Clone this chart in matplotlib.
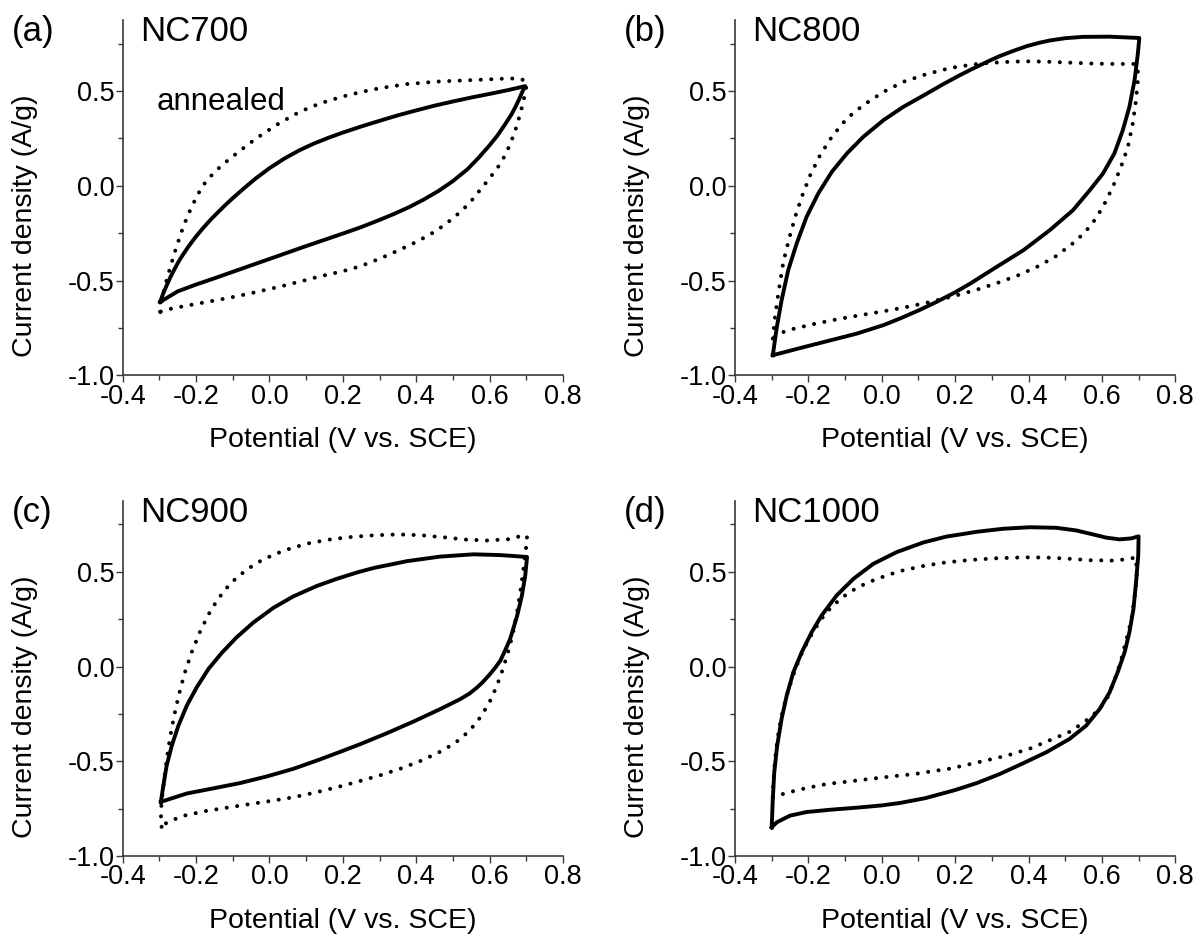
"""Cyclic voltammograms of the NC700-NC1000 carbons, as-made vs annealed.

Four panels, one per carbonisation temperature. The solid loop is the
as-made electrode, the dotted loop the annealed one.
"""

import matplotlib

matplotlib.use("Agg")
import matplotlib.pyplot as plt  # noqa: E402
from matplotlib.ticker import MultipleLocator  # noqa: E402

plt.rcParams["font.family"] = ["Liberation Sans", "DejaVu Sans"]

PANEL_TAGS = ["(a)", "(b)", "(c)", "(d)"]
SAMPLES = ["NC700", "NC800", "NC900", "NC1000"]

# Each loop: anodic sweep -0.3 -> 0.7 V, then cathodic sweep back to -0.3 V.
NC700_SOLID_V = [-0.298, -0.29, -0.28, -0.27, -0.26, -0.25, -0.24, -0.22, -0.20, -0.18,
                 -0.16, -0.14, -0.12, -0.10, -0.07, -0.04, 0.0, 0.04, 0.08, 0.12, 0.16,
                 0.20, 0.25, 0.30, 0.35, 0.40, 0.45, 0.50, 0.55, 0.60, 0.65, 0.697,
                 0.69, 0.68, 0.67, 0.66, 0.64, 0.62, 0.60, 0.57, 0.54, 0.50, 0.46, 0.42,
                 0.38, 0.34, 0.30, 0.25, 0.20, 0.15, 0.10, 0.05, 0.0, -0.05, -0.10,
                 -0.15, -0.20, -0.25, -0.298]
NC700_SOLID_J = [-0.613, -0.57, -0.525, -0.482, -0.444, -0.408, -0.376, -0.318, -0.267,
                 -0.221, -0.178, -0.139, -0.101, -0.065, -0.014, 0.035, 0.093, 0.143,
                 0.186, 0.222, 0.253, 0.281, 0.313, 0.343, 0.372, 0.398, 0.423, 0.445,
                 0.466, 0.485, 0.505, 0.526,
                 0.50, 0.455, 0.415, 0.378, 0.318, 0.262, 0.214, 0.148, 0.088, 0.025,
                 -0.028, -0.073, -0.113, -0.148, -0.18, -0.218, -0.252, -0.285, -0.318,
                 -0.352, -0.386, -0.42, -0.454, -0.488, -0.521, -0.557, -0.613]
NC700_DOT_V = [-0.298, -0.293, -0.286, -0.278, -0.271, -0.262, -0.253, -0.244, -0.235,
               -0.224, -0.212, -0.199, -0.185, -0.17, -0.153, -0.135, -0.116, -0.089,
               -0.05, -0.021, 0.029, 0.084, 0.138, 0.197, 0.25, 0.30, 0.375, 0.465,
               0.556, 0.656, 0.688, 0.702,
               0.697, 0.69, 0.682, 0.672, 0.66, 0.645, 0.625, 0.60, 0.575, 0.552, 0.53,
               0.506, 0.48, 0.461, 0.435, 0.406, 0.38, 0.352, 0.325, 0.297, 0.27, 0.243,
               0.211, 0.188, 0.16, 0.129, 0.10, 0.065, 0.035, 0.006, -0.053, -0.112,
               -0.171, -0.235, -0.271, -0.298]
NC700_DOT_J = [-0.665, -0.60, -0.54, -0.48, -0.435, -0.375, -0.32, -0.267, -0.217,
               -0.163, -0.111, -0.06, -0.01, 0.03, 0.065, 0.099, 0.13, 0.172, 0.23, 0.27,
               0.333, 0.392, 0.435, 0.47, 0.495, 0.515, 0.537, 0.551, 0.558, 0.567,
               0.562, 0.544,
               0.49, 0.43, 0.37, 0.305, 0.24, 0.17, 0.105, 0.04, -0.02, -0.075, -0.12,
               -0.162, -0.202, -0.228, -0.26, -0.29, -0.315, -0.34, -0.364, -0.387,
               -0.408, -0.427, -0.445, -0.456, -0.468, -0.482, -0.497, -0.514, -0.529,
               -0.542, -0.568, -0.592, -0.613, -0.636, -0.65, -0.665]

NC800_SOLID_V = [-0.297, -0.286, -0.273, -0.255, -0.232, -0.205, -0.173, -0.136, -0.095,
                 -0.05, 0.005, 0.059, 0.114, 0.168, 0.214, 0.25, 0.29, 0.322, 0.36,
                 0.395, 0.43, 0.458, 0.50, 0.548, 0.621, 0.702,
                 0.698, 0.689, 0.675, 0.657, 0.634, 0.603, 0.567, 0.521, 0.458, 0.386,
                 0.313, 0.241, 0.20, 0.15, 0.10, 0.05, 0.005, -0.068, -0.141, -0.214,
                 -0.297]
NC800_SOLID_J = [-0.894, -0.745, -0.604, -0.445, -0.305, -0.164, -0.04, 0.074, 0.171,
                 0.259, 0.347, 0.417, 0.477, 0.537, 0.585, 0.62, 0.657, 0.685, 0.713,
                 0.737, 0.755, 0.767, 0.779, 0.786, 0.787, 0.78,
                 0.699, 0.558, 0.417, 0.294, 0.171, 0.065, -0.023, -0.129, -0.234, -0.34,
                 -0.428, -0.516, -0.562, -0.612, -0.658, -0.70, -0.735, -0.78, -0.816,
                 -0.852, -0.894]
NC800_DOT_V = [-0.297, -0.291, -0.282, -0.268, -0.252, -0.236, -0.218, -0.195, -0.168,
               -0.136, -0.095, -0.05, 0.005, 0.059, 0.123, 0.177, 0.205, 0.268, 0.331,
               0.39, 0.449, 0.512, 0.576, 0.639, 0.689, 0.698,
               0.698, 0.693, 0.684, 0.671, 0.652, 0.63, 0.603, 0.571, 0.53, 0.476, 0.426,
               0.372, 0.322, 0.268, 0.214, 0.186, 0.123, 0.059, 0.005, -0.059, -0.123,
               -0.182, -0.241, -0.277, -0.297]
NC800_DOT_J = [-0.806, -0.692, -0.569, -0.40, -0.275, -0.164, -0.058, 0.056, 0.162,
               0.259, 0.356, 0.426, 0.496, 0.549, 0.59, 0.617, 0.628, 0.645, 0.653,
               0.657, 0.655, 0.65, 0.645, 0.643, 0.643, 0.629,
               0.558, 0.452, 0.329, 0.206, 0.10, -0.005, -0.111, -0.208, -0.29, -0.37,
               -0.425, -0.472, -0.508, -0.543, -0.573, -0.587, -0.617, -0.643, -0.662,
               -0.683, -0.705, -0.728, -0.755, -0.777, -0.806]

NC900_SOLID_V = [-0.296, -0.289, -0.28, -0.266, -0.248, -0.225, -0.198, -0.166, -0.13,
                 -0.089, -0.044, 0.011, 0.065, 0.129, 0.184, 0.24, 0.284, 0.375, 0.465,
                 0.556, 0.629, 0.702,
                 0.697, 0.688, 0.675, 0.665, 0.656, 0.643, 0.629, 0.615, 0.602, 0.58,
                 0.565, 0.545, 0.52, 0.465, 0.393, 0.32, 0.247, 0.20, 0.138, 0.065,
                 -0.007, -0.08, -0.153, -0.225, -0.296]
NC900_SOLID_J = [-0.714, -0.626, -0.521, -0.416, -0.311, -0.205, -0.109, -0.012, 0.072,
                 0.155, 0.232, 0.31, 0.37, 0.425, 0.463, 0.497, 0.52, 0.556, 0.58,
                 0.592, 0.588, 0.578,
                 0.479, 0.374, 0.268, 0.203, 0.146, 0.088, 0.03, -0.007, -0.038, -0.085,
                 -0.112, -0.143, -0.172, -0.225, -0.29, -0.352, -0.41, -0.445, -0.49,
                 -0.54, -0.58, -0.615, -0.643, -0.67, -0.714]
NC900_DOT_V = [-0.294, -0.296, -0.294, -0.287, -0.28, -0.271, -0.26, -0.247, -0.232,
               -0.212, -0.189, -0.166, -0.144, -0.12, -0.09, -0.057, -0.02, 0.02, 0.06,
               0.111, 0.17, 0.23, 0.29, 0.352, 0.411, 0.475, 0.534, 0.593, 0.652, 0.688,
               0.702,
               0.70, 0.695, 0.69, 0.684, 0.675, 0.663, 0.648, 0.629, 0.606, 0.578, 0.545,
               0.505, 0.46, 0.41, 0.36, 0.30, 0.24, 0.188, 0.125, 0.065, 0.002, -0.057,
               -0.116, -0.175, -0.235, -0.266, -0.285, -0.294]
NC900_DOT_J = [-0.846, -0.775, -0.714, -0.60, -0.49, -0.375, -0.262, -0.15, -0.04, 0.075,
               0.185, 0.275, 0.345, 0.408, 0.468, 0.518, 0.562, 0.597, 0.625, 0.652,
               0.672, 0.685, 0.693, 0.697, 0.693, 0.682, 0.67, 0.665, 0.672, 0.69,
               0.689,
               0.637, 0.56, 0.48, 0.40, 0.29, 0.17, 0.06, -0.055, -0.165, -0.26, -0.34,
               -0.405, -0.455, -0.50, -0.537, -0.575, -0.608, -0.635, -0.665, -0.69,
               -0.71, -0.727, -0.745, -0.763, -0.788, -0.812, -0.83, -0.846]

NC1000_SOLID_V = [-0.30, -0.297, -0.293, -0.285, -0.273, -0.259, -0.241, -0.218, -0.191,
                  -0.164, -0.123, -0.077, -0.023, 0.041, 0.114, 0.177, 0.214, 0.259,
                  0.331, 0.404, 0.476, 0.53, 0.576, 0.612, 0.648, 0.68, 0.70,
                  0.699, 0.693, 0.686, 0.675, 0.662, 0.643, 0.621, 0.594, 0.557, 0.512,
                  0.449, 0.386, 0.322, 0.259, 0.20, 0.118, 0.05, 0.0, -0.068, -0.141,
                  -0.205, -0.25, -0.286, -0.30]
NC1000_SOLID_J = [-0.849, -0.699, -0.558, -0.417, -0.276, -0.153, -0.03, 0.076, 0.181,
                  0.269, 0.375, 0.463, 0.542, 0.604, 0.655, 0.686, 0.697, 0.711, 0.727,
                  0.735, 0.732, 0.718, 0.697, 0.68, 0.671, 0.676, 0.687,
                  0.586, 0.445, 0.304, 0.181, 0.076, -0.03, -0.136, -0.224, -0.312, -0.382,
                  -0.452, -0.51, -0.567, -0.615, -0.652, -0.695, -0.72, -0.733, -0.745,
                  -0.756, -0.768, -0.787, -0.822, -0.849]
NC1000_DOT_V = [-0.297, -0.296, -0.293, -0.289, -0.284, -0.278, -0.27, -0.26, -0.248,
                -0.234, -0.218, -0.20, -0.18, -0.16, -0.138, -0.115, -0.09, -0.06, -0.025,
                0.015, 0.055, 0.114, 0.173, 0.24, 0.31, 0.386, 0.449, 0.508, 0.567, 0.63,
                0.662, 0.693,
                0.695, 0.689, 0.68, 0.666, 0.652, 0.634, 0.612, 0.58, 0.553, 0.512, 0.458,
                0.404, 0.345, 0.286, 0.227, 0.186, 0.15, 0.091, 0.032, -0.032, -0.091,
                -0.15, -0.209, -0.245, -0.268, -0.285, -0.297]
NC1000_DOT_J = [-0.69, -0.63, -0.54, -0.46, -0.38, -0.31, -0.235, -0.16, -0.085, -0.005,
                0.07, 0.14, 0.205, 0.262, 0.312, 0.352, 0.39, 0.423, 0.453, 0.482, 0.506,
                0.531, 0.549, 0.562, 0.571, 0.576, 0.575, 0.569, 0.561, 0.559, 0.565,
                0.575,
                0.47, 0.366, 0.243, 0.137, 0.032, -0.074, -0.179, -0.248, -0.292, -0.345,
                -0.389, -0.433, -0.468, -0.495, -0.521, -0.539, -0.549, -0.567, -0.579,
                -0.593, -0.607, -0.62, -0.643, -0.66, -0.672, -0.683, -0.69]

SOLID_V = [NC700_SOLID_V, NC800_SOLID_V, NC900_SOLID_V, NC1000_SOLID_V]
SOLID_J = [NC700_SOLID_J, NC800_SOLID_J, NC900_SOLID_J, NC1000_SOLID_J]
DOT_V = [NC700_DOT_V, NC800_DOT_V, NC900_DOT_V, NC1000_DOT_V]
DOT_J = [NC700_DOT_J, NC800_DOT_J, NC900_DOT_J, NC1000_DOT_J]

W, H = 1199, 935
AX_W, AX_H = 440.3, 355.3
# left edge / bottom edge of each axes box, in pixels from the top-left corner
AX_ORIGINS = [(122.7, 375.3), (735.0, 375.3), (122.7, 856.0), (735.0, 856.0)]

SPINE = "#3a3a3a"


def tick_fmt(v, _pos):
    return f"{v:.1f}".replace("-0.0", "0.0")


fig = plt.figure(figsize=(W / 100, H / 100), dpi=100)

for i, (x0, y0) in enumerate(AX_ORIGINS):
    ax = fig.add_axes([x0 / W, 1 - y0 / H, AX_W / W, AX_H / H])

    ax.plot(SOLID_V[i], SOLID_J[i], color="black", linewidth=2.8,
            solid_joinstyle="round")
    ax.plot(DOT_V[i], DOT_J[i], color="black", linewidth=2.9,
            linestyle=(0, (0.01, 2.6)), dash_capstyle="round")

    ax.set_xlim(-0.4, 0.8)
    ax.set_ylim(-1.0, 0.875)
    ax.xaxis.set_major_locator(MultipleLocator(0.2))
    ax.xaxis.set_minor_locator(MultipleLocator(0.1))
    ax.yaxis.set_major_locator(MultipleLocator(0.5))
    ax.yaxis.set_minor_locator(MultipleLocator(0.25))
    ax.xaxis.set_major_formatter(tick_fmt)
    ax.yaxis.set_major_formatter(tick_fmt)

    for side in ("top", "right"):
        ax.spines[side].set_visible(False)
    for side in ("left", "bottom"):
        ax.spines[side].set_color(SPINE)
        ax.spines[side].set_linewidth(1.2)
    ax.tick_params(which="both", direction="out", color=SPINE, width=1.0,
                   labelsize=19.5, pad=1)
    ax.tick_params(which="major", length=5)
    ax.tick_params(which="minor", length=3.5)

    ax.set_xlabel("Potential (V vs. SCE)", fontsize=20.5)
    ax.set_ylabel("Current density (A/g)", fontsize=20.5)
    ax.xaxis.set_label_coords(0.5, -0.145)
    ax.yaxis.set_label_coords(-0.192, 0.42)

    ax.text(-0.252, 0.941, PANEL_TAGS[i], transform=ax.transAxes,
            fontsize=25, va="baseline", ha="left")
    ax.text(0.039, 0.941, SAMPLES[i], transform=ax.transAxes,
            fontsize=25, va="baseline", ha="left")
    if i == 0:
        ax.text(-0.307, 0.40, "annealed", fontsize=22.5, va="baseline", ha="left")

fig.savefig("out.png", dpi=100)
